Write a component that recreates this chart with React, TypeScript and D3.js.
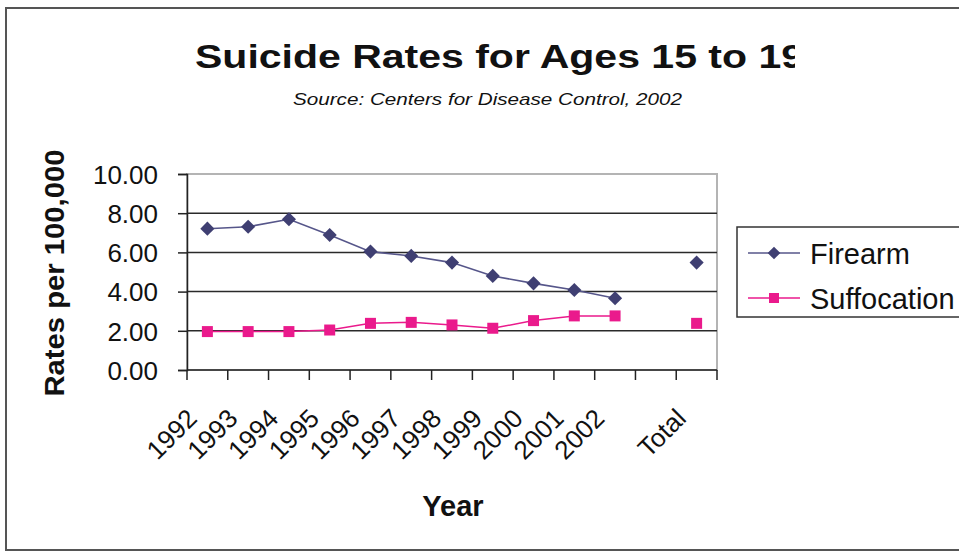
import React, { useEffect, useRef } from "react";
import * as d3 from "d3";

const years = ["1992", "1993", "1994", "1995", "1996", "1997", "1998", "1999", "2000", "2001", "2002"];
const categories = [...years, "", "Total"];
const firearm = [7.21, 7.31, 7.69, 6.89, 6.04, 5.82, 5.48, 4.8, 4.42, 4.08, 3.66];
const suffocation = [1.96, 1.96, 1.96, 2.04, 2.38, 2.43, 2.3, 2.13, 2.52, 2.76, 2.76];
const firearmTotal = 5.48;
const suffocationTotal = 2.38;
const yTicks = [0, 2, 4, 6, 8, 10];

const FONT = "Arial, 'Liberation Sans', sans-serif";
const FIREARM_COLOR = "#3f3f72";
const FIREARM_LINE = "#56568a";
const SUFF_COLOR = "#ea1a8c";

const App = () => {
  const chartRef = useRef(null);

  useEffect(() => {
    drawChart();
  }, []);

  const drawChart = () => {
    const svg = d3.select(chartRef.current);
    svg.selectAll("*").remove();

    const width = 959;
    const height = 552;
    const plot = { left: 187, right: 717, top: 174, bottom: 370 };

    const x = d3.scaleBand().domain(categories).range([plot.left, plot.right]);
    const y = d3.scaleLinear().domain([0, 10]).range([plot.bottom, plot.top]);
    const cx = (c) => x(c) + x.bandwidth() / 2;

    svg.append("rect").attr("width", width).attr("height", height).attr("fill", "#fff");

    // outer chart border (runs off the right edge)
    svg
      .append("rect")
      .attr("x", 6)
      .attr("y", 8)
      .attr("width", 1000)
      .attr("height", 542)
      .attr("fill", "none")
      .attr("stroke", "#555")
      .attr("stroke-width", 2);

    // title, clipped like the original
    svg
      .append("clipPath")
      .attr("id", "titleClip")
      .append("rect")
      .attr("x", 0)
      .attr("y", 20)
      .attr("width", 795)
      .attr("height", 60);

    svg
      .append("text")
      .attr("clip-path", "url(#titleClip)")
      .attr("x", 195)
      .attr("y", 68)
      .attr("font-family", FONT)
      .attr("font-weight", "bold")
      .attr("font-size", 34)
      .attr("textLength", 609)
      .attr("lengthAdjust", "spacingAndGlyphs")
      .attr("fill", "#111")
      .text("Suicide Rates for Ages 15 to 19");

    svg
      .append("text")
      .attr("x", 293)
      .attr("y", 105)
      .attr("font-family", FONT)
      .attr("font-style", "italic")
      .attr("font-size", 17)
      .attr("textLength", 389)
      .attr("lengthAdjust", "spacingAndGlyphs")
      .attr("fill", "#111")
      .text("Source: Centers for Disease Control, 2002");

    // plot area border
    svg
      .append("rect")
      .attr("x", plot.left)
      .attr("y", plot.top)
      .attr("width", plot.right - plot.left)
      .attr("height", plot.bottom - plot.top)
      .attr("fill", "none")
      .attr("stroke", "#b4b4b4")
      .attr("stroke-width", 2);

    // gridlines
    svg
      .append("g")
      .selectAll("line")
      .data(yTicks.filter((t) => t > 0 && t < 10))
      .join("line")
      .attr("x1", plot.left)
      .attr("x2", plot.right)
      .attr("y1", (d) => y(d))
      .attr("y2", (d) => y(d))
      .attr("stroke", "#2a2a2a")
      .attr("stroke-width", 1.5);

    // y axis
    const yAxis = svg
      .append("g")
      .attr("transform", `translate(${plot.left},0)`)
      .call(d3.axisLeft(y).tickValues(yTicks).tickSize(9).tickFormat(d3.format(".2f")));
    yAxis.select(".domain").attr("stroke", "#222").attr("stroke-width", 1.5);
    yAxis.selectAll(".tick line").attr("stroke", "#222").attr("stroke-width", 1.5);
    yAxis
      .selectAll(".tick text")
      .attr("x", -29)
      .attr("dy", "0.36em")
      .attr("font-family", FONT)
      .attr("font-size", 26)
      .attr("fill", "#111");

    // x axis: ticks on band boundaries
    const xAxis = svg.append("g");
    xAxis
      .append("line")
      .attr("x1", plot.left)
      .attr("x2", plot.right)
      .attr("y1", plot.bottom)
      .attr("y2", plot.bottom)
      .attr("stroke", "#222")
      .attr("stroke-width", 1.5);
    xAxis
      .selectAll("line.tick")
      .data([...categories.map((c) => x(c)), plot.right])
      .join("line")
      .attr("class", "tick")
      .attr("x1", (d) => d)
      .attr("x2", (d) => d)
      .attr("y1", plot.bottom)
      .attr("y2", plot.bottom + 10)
      .attr("stroke", "#222")
      .attr("stroke-width", 1.5);
    xAxis
      .selectAll("text")
      .data(categories.filter((c) => c !== ""))
      .join("text")
      .attr("transform", (d) => `translate(${cx(d) - 9},420) rotate(-45)`)
      .attr("text-anchor", "end")
      .attr("font-family", FONT)
      .attr("font-size", 26)
      .attr("fill", "#111")
      .text((d) => d);

    // axis titles
    svg
      .append("text")
      .attr("transform", "translate(64,273) rotate(-90)")
      .attr("text-anchor", "middle")
      .attr("font-family", FONT)
      .attr("font-weight", "bold")
      .attr("font-size", 27)
      .attr("textLength", 247)
      .attr("lengthAdjust", "spacingAndGlyphs")
      .attr("fill", "#111")
      .text("Rates per 100,000");

    svg
      .append("text")
      .attr("x", 453)
      .attr("y", 516)
      .attr("text-anchor", "middle")
      .attr("font-family", FONT)
      .attr("font-weight", "bold")
      .attr("font-size", 29)
      .attr("fill", "#111")
      .text("Year");

    // series
    const line = d3
      .line()
      .x((d) => cx(d.c))
      .y((d) => y(d.v));

    const firearmPts = years.map((c, i) => ({ c, v: firearm[i] }));
    const suffPts = years.map((c, i) => ({ c, v: suffocation[i] }));

    svg
      .append("path")
      .datum(firearmPts)
      .attr("fill", "none")
      .attr("stroke", FIREARM_LINE)
      .attr("stroke-width", 1.6)
      .attr("d", line);

    svg
      .append("path")
      .datum(suffPts)
      .attr("fill", "none")
      .attr("stroke", SUFF_COLOR)
      .attr("stroke-width", 1.5)
      .attr("d", line);

    const diamond = d3.symbol().type(d3.symbolSquare).size(100);
    const square = d3.symbol().type(d3.symbolSquare).size(121);

    svg
      .append("g")
      .selectAll("path")
      .data([...firearmPts, { c: "Total", v: firearmTotal }])
      .join("path")
      .attr("transform", (d) => `translate(${cx(d.c)},${y(d.v)}) rotate(45)`)
      .attr("d", diamond)
      .attr("fill", FIREARM_COLOR);

    svg
      .append("g")
      .selectAll("path")
      .data([...suffPts, { c: "Total", v: suffocationTotal }])
      .join("path")
      .attr("transform", (d) => `translate(${cx(d.c)},${y(d.v)})`)
      .attr("d", square)
      .attr("fill", SUFF_COLOR);

    // legend
    const legend = svg.append("g");
    legend
      .append("rect")
      .attr("x", 737)
      .attr("y", 227)
      .attr("width", 300)
      .attr("height", 90)
      .attr("fill", "#fff")
      .attr("stroke", "#333")
      .attr("stroke-width", 1.5);

    const legendDiamond = d3.symbol().type(d3.symbolSquare).size(80);
    const legendSquare = d3.symbol().type(d3.symbolSquare).size(100);
    const items = [
      { name: "Firearm", color: FIREARM_COLOR, lineColor: FIREARM_LINE, sym: legendDiamond, rot: 45, y: 253 },
      { name: "Suffocation", color: SUFF_COLOR, lineColor: SUFF_COLOR, sym: legendSquare, rot: 0, y: 298 },
    ];
    items.forEach((it) => {
      legend
        .append("line")
        .attr("x1", 748)
        .attr("x2", 800)
        .attr("y1", it.y)
        .attr("y2", it.y)
        .attr("stroke", it.lineColor)
        .attr("stroke-width", 1.6);
      legend
        .append("path")
        .attr("transform", `translate(774,${it.y}) rotate(${it.rot})`)
        .attr("d", it.sym)
        .attr("fill", it.color);
      legend
        .append("text")
        .attr("x", 810)
        .attr("y", it.y + 11)
        .attr("font-family", FONT)
        .attr("font-size", 29)
        .attr("fill", "#111")
        .text(it.name);
    });
  };

  return (
    <div>
      <svg
        ref={chartRef}
        width={959}
        height={552}
        style={{ position: "absolute", left: 0, top: 0, display: "block" }}
      ></svg>
    </div>
  );
};

export default App;
